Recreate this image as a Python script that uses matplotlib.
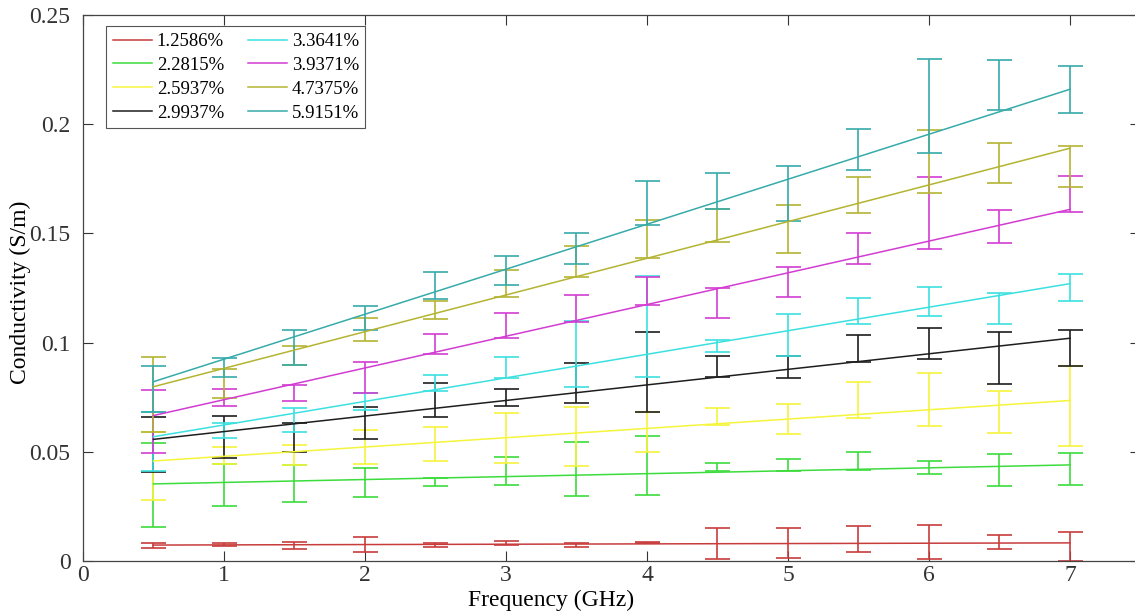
import numpy as np
import matplotlib
matplotlib.use("Agg")
import matplotlib.pyplot as plt

plt.rcParams['font.family'] = 'Liberation Serif'

freq = [0.5, 1, 1.5, 2, 2.5, 3, 3.5, 4, 4.5, 5, 5.5, 6, 6.5, 7]

labels = ['1.2586%', '2.2815%', '2.5937%', '2.9937%',
          '3.3641%', '3.9371%', '4.7375%', '5.9151%']
colors = ['#c83c3c', '#3cdc3c', '#f5f53c', '#1e1e1e',
          '#3ce0e0', '#d23cd2', '#b4b432', '#37aaaa']

# mean conductivity at each frequency
mean_1 = [0.0070, 0.0076, 0.0073, 0.0076, 0.0074, 0.0082, 0.0075, 0.0084, 0.0079, 0.0082, 0.0100, 0.0088, 0.0087, 0.0067]
mean_2 = [0.0349, 0.0348, 0.0355, 0.0358, 0.0361, 0.0413, 0.0421, 0.0437, 0.0430, 0.0438, 0.0459, 0.0428, 0.0416, 0.0422]
mean_3 = [0.0435, 0.0482, 0.0486, 0.0522, 0.0537, 0.0562, 0.0570, 0.0592, 0.0661, 0.0650, 0.0737, 0.0740, 0.0682, 0.0709]
mean_4 = [0.0535, 0.0567, 0.0565, 0.0633, 0.0739, 0.0748, 0.0814, 0.0867, 0.0892, 0.0888, 0.0974, 0.0995, 0.0929, 0.0975]
mean_5 = [0.0545, 0.0596, 0.0646, 0.0730, 0.0815, 0.0885, 0.0947, 0.1072, 0.0984, 0.1035, 0.1144, 0.1188, 0.1156, 0.1253]
mean_6 = [0.0637, 0.0748, 0.0770, 0.0839, 0.0994, 0.1077, 0.1156, 0.1237, 0.1183, 0.1278, 0.1431, 0.1593, 0.1531, 0.1681]
mean_7 = [0.0763, 0.0813, 0.0941, 0.1059, 0.1150, 0.1271, 0.1372, 0.1474, 0.1536, 0.1522, 0.1676, 0.1831, 0.1824, 0.1806]
mean_8 = [0.0787, 0.0886, 0.0978, 0.1113, 0.1260, 0.1331, 0.1430, 0.1638, 0.1694, 0.1682, 0.1884, 0.2085, 0.2179, 0.2159]

# standard deviation at each frequency
std_1 = [0.0012, 0.0006, 0.0016, 0.0036, 0.0008, 0.0008, 0.0009, 0.0002, 0.0071, 0.0069, 0.0060, 0.0078, 0.0031, 0.0067]
std_2 = [0.0192, 0.0096, 0.0086, 0.0066, 0.0018, 0.0065, 0.0123, 0.0135, 0.0020, 0.0028, 0.0042, 0.0028, 0.0072, 0.0073]
std_3 = [0.0155, 0.0038, 0.0046, 0.0079, 0.0078, 0.0115, 0.0134, 0.0092, 0.0038, 0.0067, 0.0081, 0.0120, 0.0097, 0.0184]
std_4 = [0.0126, 0.0097, 0.0065, 0.0074, 0.0078, 0.0038, 0.0092, 0.0183, 0.0048, 0.0052, 0.0061, 0.0070, 0.0119, 0.0082]
std_5 = [0.0135, 0.0034, 0.0054, 0.0040, 0.0035, 0.0048, 0.0150, 0.0231, 0.0026, 0.0096, 0.0059, 0.0068, 0.0070, 0.0062]
std_6 = [0.0144, 0.0038, 0.0036, 0.0071, 0.0046, 0.0057, 0.0060, 0.0065, 0.0069, 0.0068, 0.0073, 0.0163, 0.0076, 0.0083]
std_7 = [0.0173, 0.0068, 0.0044, 0.0052, 0.0040, 0.0061, 0.0070, 0.0088, 0.0074, 0.0110, 0.0084, 0.0144, 0.0092, 0.0092]
std_8 = [0.0107, 0.0042, 0.0081, 0.0055, 0.0062, 0.0067, 0.0070, 0.0100, 0.0084, 0.0126, 0.0094, 0.0215, 0.0113, 0.0108]

# linear fit values at 0.5 GHz and 7 GHz
fit_lo = [0.0073, 0.0353, 0.0458, 0.0557, 0.0569, 0.0666, 0.0798, 0.0821]
fit_hi = [0.0083, 0.0440, 0.0735, 0.1020, 0.1270, 0.1610, 0.1890, 0.2160]

means = [mean_1, mean_2, mean_3, mean_4, mean_5, mean_6, mean_7, mean_8]
stds = [std_1, std_2, std_3, std_4, std_5, std_6, std_7, std_8]

fig = plt.figure(figsize=(11.35, 6.15), dpi=100)
ax = fig.add_axes([0.0731, 0.0878, 0.9317, 0.8878])

for i in range(len(labels)):
    ax.plot([freq[0], freq[-1]], [fit_lo[i], fit_hi[i]], color=colors[i],
            lw=1.1, label=labels[i], zorder=3)
    ax.errorbar(freq, means[i], yerr=stds[i], fmt='none', ecolor=colors[i],
                elinewidth=1.2, capsize=9, capthick=1.2, zorder=2)

ax.set_xlim(0, 7.5)
ax.set_ylim(0, 0.25)
ax.set_xticks(range(0, 8))
ax.set_yticks([0, 0.05, 0.1, 0.15, 0.2, 0.25])
ax.set_yticklabels(['0', '0.05', '0.1', '0.15', '0.2', '0.25'])
ax.tick_params(direction='in', length=7, width=0.8, top=True, right=True,
               labelsize=17, colors='#333333')
ax.tick_params(axis='y', pad=9)
ax.tick_params(axis='x', pad=3)
for s in ax.spines.values():
    s.set_color('#444444')
    s.set_linewidth(0.9)

ax.set_xlabel('Frequency (GHz)', fontsize=17)
ax.xaxis.set_label_coords(0.4426, -0.052)
ax.set_ylabel('Conductivity (S/m)', fontsize=17)
ax.yaxis.set_label_coords(-0.0596, 0.493)
ax.yaxis.label.set_va('center')

leg = ax.legend(ncol=2, loc='upper left', bbox_to_anchor=(0.022, 0.979),
                fontsize=13.5, handlelength=2.1, handletextpad=0.25,
                columnspacing=1.25, labelspacing=0.36, borderpad=0.35,
                fancybox=False, framealpha=1, borderaxespad=0)
leg.get_frame().set_edgecolor('#555555')
leg.get_frame().set_linewidth(0.8)

fig.savefig('out.png', dpi=100)
